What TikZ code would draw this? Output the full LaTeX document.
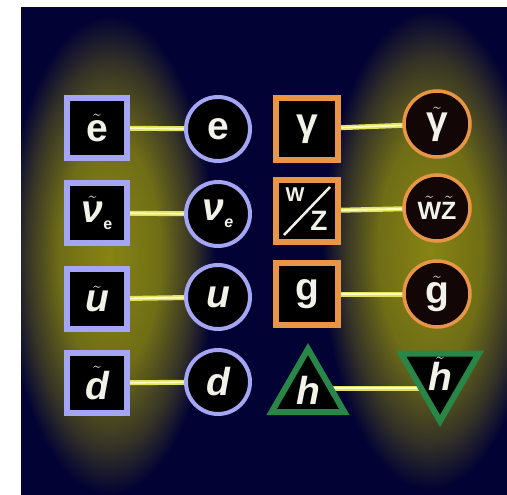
\documentclass[tikz,border=0pt]{standalone}
\usepackage{amsmath}
\usepackage{fontspec}
\setmainfont{Liberation Sans}
\usetikzlibrary{shapes.geometric,calc}
\definecolor{bgc}{RGB}{2,2,52}
\definecolor{glowc}{RGB}{135,132,20}
\definecolor{glowb}{RGB}{112,110,22}
\definecolor{glowd}{RGB}{52,50,38}
\definecolor{lav}{RGB}{165,165,245}
\definecolor{orng}{RGB}{232,150,70}
\definecolor{grn}{RGB}{40,135,70}
\definecolor{lineY}{RGB}{225,225,90}
\definecolor{lineC}{RGB}{250,250,200}
\definecolor{dkfill}{RGB}{18,6,6}
\definecolor{txt}{RGB}{242,242,232}
\pgfdeclarelayer{glowlayer}
\pgfdeclarelayer{linelayer}
\pgfsetlayers{glowlayer,linelayer,main}
\pgfdeclareradialshading{glowshade}{\pgfpointorigin}{color(0bp)=(glowc); color(12bp)=(glowb); color(20bp)=(glowd); color(25bp)=(bgc)}
\newcommand\lett{\fontsize{39}{42}\selectfont\bfseries}
\newcommand\tld[1]{\ensuremath{\tilde{\text{#1}}}}
\newcommand\subE{\raisebox{-7pt}{\fontsize{16}{18}\selectfont e}}
\tikzset{
  lsq/.style={draw=lav, line width=5.5pt, fill=black, minimum size=60pt, inner sep=0pt, text=txt, font=\lett},
  lci/.style={circle, draw=lav, line width=4pt, fill=black, minimum size=64pt, inner sep=0pt, text=txt, font=\lett},
  osq/.style={draw=orng, line width=6pt, fill=black, minimum size=62pt, inner sep=0pt, text=txt, font=\lett},
  oci/.style={circle, draw=orng, line width=3.5pt, fill=dkfill, minimum size=66pt, inner sep=0pt, text=txt, font=\lett},
  tri/.style={regular polygon, regular polygon sides=3, draw=grn, line width=6pt, fill=black, inner sep=0pt, text=txt, font=\lett},
  conn/.style={draw=lineY, line width=5pt, postaction={draw=lineC, line width=1.8pt}}
}
\begin{document}
\begin{tikzpicture}[x=1pt,y=-1pt]
\useasboundingbox (0,0) rectangle (507,495);
\begin{pgfonlayer}{glowlayer}
  \fill[bgc] (21,7) rectangle (507,495);
  \begin{scope}
    \clip (21,7) rectangle (507,495);
    \shade[shading=glowshade] (110,255) ellipse (105 and 240);
    \shade[shading=glowshade] (430,250) ellipse (108 and 240);
  \end{scope}
\end{pgfonlayer}
% left squares (sfermions)
\node[lsq] (se) at (97,128) {\tld{e}};
\node[lsq] (snu) at (97,213) {\tld{\itshape ν}\subE};
\node[lsq] (su) at (97,299) {\tld{\itshape u}};
\node[lsq] (sd) at (97,383) {\tld{\itshape d}};
% left circles (fermions)
\node[lci] (e) at (218,129) {e};
\node[lci] (nu) at (218,214) {\itshape ν\subE};
\node[lci] (u) at (218,297) {\itshape u};
\node[lci] (d) at (218,382) {\itshape d};
% orange squares (bosons)
\node[osq] (gam) at (307,129) {γ};
\node[osq] (wz) at (307,211) {};
\node[font=\fontsize{20}{22}\selectfont\bfseries, text=txt, inner sep=0pt] (wzW) at (295,195) {W};
\node[font=\fontsize{28}{30}\selectfont\bfseries, text=txt, inner sep=0pt] (wzZ) at (319,221) {Z};
\coordinate (wzA) at (284,235);
\coordinate (wzB) at (330,187);
\draw[txt, line width=2.5pt] (wzA) -- (wzB);
\node[osq] (g) at (307,294) {g};
% orange circles (gauginos)
\node[oci] (sgam) at (437,124) {\tld{γ}};
\node[oci, font=\fontsize{25}{27}\selectfont\bfseries] (swz) at (437,208) {\tld{W}\tld{Z}};
\node[oci] (sg) at (437,294) {\tld{g}};
% higgs and higgsino
\node[tri, minimum size=84pt] (h) at (308,391) {};
\node[font=\lett\itshape, text=txt, inner sep=0pt] (hl) at (308,390) {h};
\node[tri, minimum size=90pt, shape border rotate=180] (sh) at (440,376) {};
\node[font=\lett\itshape, text=txt, inner sep=0pt] (shl) at (440,374) {\tld{h}};
\coordinate (hy) at (0,388);
% connectors
\begin{pgfonlayer}{linelayer}
  \draw[conn] (se.center) -- (e.center);
  \draw[conn] (snu.center) -- (nu.center);
  \draw[conn] (su.center) -- (u.center);
  \draw[conn] (sd.center) -- (d.center);
  \draw[conn] (gam.center) -- (sgam.center);
  \draw[conn] (wz.center) -- (swz.center);
  \draw[conn] (g.center) -- (sg.center);
  \draw[conn] (h.center |- hy) -- (sh.center |- hy);
\end{pgfonlayer}
\end{tikzpicture}
\end{document}
